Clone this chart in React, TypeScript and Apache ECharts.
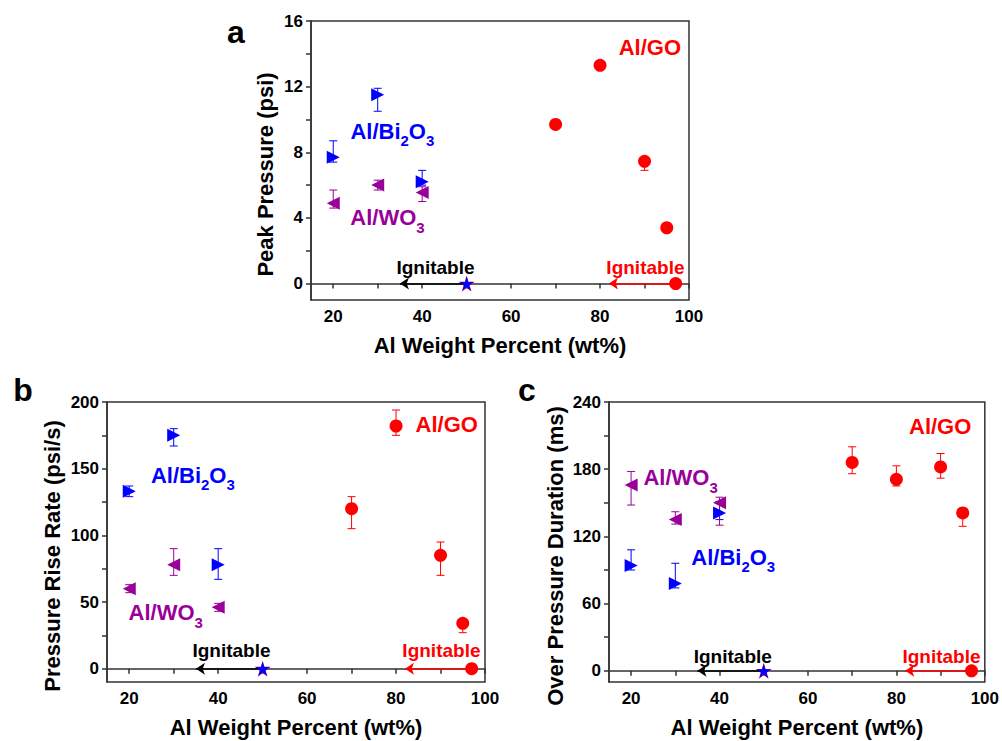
import React, { useEffect, useRef } from "react";
import * as echarts from "echarts";

const FONT = '"Liberation Sans", Arial, Helvetica, sans-serif';
const RED = "#ff0000";
const BLUE = "#0000ff";
const PURPLE = "#990099";
const AXIS = "#333333";

// shared x data (Al weight percent)
const xTicks = [20, 30, 40, 50, 60, 70, 80, 90, 100];
const xLabels = [20, 40, 60, 80, 100];
const goX = [70, 80, 90, 95];
const oxX = [20, 30, 40];
const igniteOxX = [50];
const igniteGoX = [97];
const igniteY = [0];

// panel a: peak pressure (psi)
const peakTicks = [0, 2, 4, 6, 8, 10, 12, 14, 16];
const peakLabels = [0, 4, 8, 12, 16];
const peakGO = [9.7, 13.3, 7.45, 3.4];
const peakGOLow = [9.55, 13.15, 6.9, 3.25];
const peakGOHigh = [9.85, 13.45, 7.6, 3.55];
const peakBi = [7.7, 11.5, 6.2];
const peakBiLow = [7.4, 10.5, 6.0];
const peakBiHigh = [8.7, 11.9, 6.9];
const peakWO = [4.9, 6.0, 5.55];
const peakWOLow = [4.6, 5.7, 5.0];
const peakWOHigh = [5.7, 6.3, 5.9];

// panel b: pressure rise rate (psi/s)
const rateTicks = [0, 25, 50, 75, 100, 125, 150, 175, 200];
const rateLabels = [0, 50, 100, 150, 200];
const rateGO = [120, 182, 85, 34];
const rateGOLow = [105, 175, 70, 27];
const rateGOHigh = [129, 194, 95, 37];
const rateBi = [133, 175, 78];
const rateBiLow = [129, 167, 67];
const rateBiHigh = [137, 180, 90];
const rateWO = [60, 78, 46];
const rateWOLow = [57, 70, 43];
const rateWOHigh = [63, 90, 49];

// panel c: over pressure duration (ms)
const durTicks = [0, 30, 60, 90, 120, 150, 180, 210, 240];
const durLabels = [0, 60, 120, 180, 240];
const durGO = [186, 171, 182, 141];
const durGOLow = [176, 165, 172, 129];
const durGOHigh = [200, 183, 194, 145];
const durBi = [94, 78, 141];
const durBiLow = [90, 74, 135];
const durBiHigh = [108, 96, 151];
const durWO = [166, 135, 150];
const durWOLow = [148, 131, 130];
const durWOHigh = [178, 142, 155];

const STAR =
  "path://M50,0 L61,35 L98,35 L68,57 L79,91 L50,70 L21,91 L32,57 L2,35 L39,35 Z";

const zip = (xs: number[], ys: number[]) => xs.map((x, i) => [x, ys[i]]);
const zip3 = (xs: number[], lo: number[], hi: number[]) =>
  xs.map((x, i) => [x, lo[i], hi[i]]);

const errRender = (color: string) => (params: any, api: any) => {
  const x = api.value(0);
  const a = api.coord([x, api.value(1)]);
  const b = api.coord([x, api.value(2)]);
  const w = 4;
  const style = { stroke: color, lineWidth: 1 };
  return {
    type: "group",
    children: [
      { type: "line", shape: { x1: a[0], y1: a[1], x2: b[0], y2: b[1] }, style },
      { type: "line", shape: { x1: a[0] - w, y1: a[1], x2: a[0] + w, y2: a[1] }, style },
      { type: "line", shape: { x1: b[0] - w, y1: b[1], x2: b[0] + w, y2: b[1] }, style },
    ],
  };
};

const richFor = (color: string) => ({
  m: { fontSize: 22, fontWeight: "bold", fontFamily: FONT, color, padding: [0, 0, 6, 0] },
  s: { fontSize: 15, fontWeight: "bold", fontFamily: FONT, color, verticalAlign: "bottom" },
});

const textPoint = (coord: number[], formatter: string, color: string, size = 22) => ({
  coord,
  symbol: "circle",
  symbolSize: 0,
  label: {
    show: true,
    position: "inside",
    formatter,
    color,
    fontSize: size,
    fontWeight: "bold",
    fontFamily: FONT,
    rich: richFor(color),
  },
});

const arrowLine = (color: string, from: number[], to: number[]) => ({
  silent: true,
  symbol: ["none", "arrow"],
  symbolSize: 9,
  lineStyle: { color, width: 1.5, type: "solid", opacity: 1 },
  itemStyle: { color },
  label: { show: false },
  emphasis: { disabled: true },
  data: [[{ coord: from }, { coord: to }]],
});

type Panel = {
  grid: any;
  yMin: number;
  yMax: number;
  yTicks: number[];
  yLabels: number[];
  yName: string;
  yNameGap: number;
  go: number[];
  goLow: number[];
  goHigh: number[];
  bi: number[];
  biLow: number[];
  biHigh: number[];
  wo: number[];
  woLow: number[];
  woHigh: number[];
  goLabel: number[];
  biLabel: number[];
  woLabel: number[];
  ignY: number;
};

function buildPanel(p: Panel, idx: number) {
  const tickLabel = {
    fontSize: 17,
    fontWeight: "bold",
    fontFamily: FONT,
    color: "#000",
    margin: 8,
  };
  const xAxis = {
    type: "value",
    gridIndex: idx,
    min: 15,
    max: 100,
    name: "Al Weight Percent (wt%)",
    nameLocation: "middle",
    nameGap: 34,
    nameTextStyle: { fontSize: 22, fontWeight: "bold", fontFamily: FONT, color: "#000" },
    axisLine: { show: true, lineStyle: { color: AXIS, width: 1.5 } },
    axisTick: { show: true, length: 5, customValues: xTicks, lineStyle: { color: AXIS, width: 1.5 } },
    axisLabel: { ...tickLabel, customValues: xLabels },
    splitLine: { show: false },
  };
  const yAxis = {
    type: "value",
    gridIndex: idx,
    min: p.yMin,
    max: p.yMax,
    name: p.yName,
    nameLocation: "middle",
    nameGap: p.yNameGap,
    nameTextStyle: {
      fontSize: 22,
      fontWeight: "bold",
      fontFamily: FONT,
      color: "#000",
      padding: [0, 28, 0, 0],
    },
    axisLine: { show: true, lineStyle: { color: AXIS, width: 1.5 } },
    axisTick: { show: true, length: 5, customValues: p.yTicks, lineStyle: { color: AXIS, width: 1.5 } },
    axisLabel: { ...tickLabel, customValues: p.yLabels },
    splitLine: { show: false },
  };
  const base = { xAxisIndex: idx, yAxisIndex: idx };
  const err = (name: string, color: string, lo: number[], hi: number[], xs: number[]) => ({
    ...base,
    type: "custom",
    name,
    renderItem: errRender(color),
    data: zip3(xs, lo, hi),
    z: 1,
    silent: true,
    encode: { x: 0, y: [1, 2] },
  });
  const series: any[] = [
    err("Al/GO err", RED, p.goLow, p.goHigh, goX),
    err("Al/Bi2O3 err", BLUE, p.biLow, p.biHigh, oxX),
    err("Al/WO3 err", PURPLE, p.woLow, p.woHigh, oxX),
    {
      ...base,
      type: "scatter",
      name: "Al/GO",
      data: zip(goX, p.go),
      symbol: "circle",
      symbolSize: 13,
      itemStyle: { color: RED, opacity: 1 },
      z: 3,
      markPoint: { silent: true, data: [textPoint(p.goLabel, "Al/GO", RED)] },
    },
    {
      ...base,
      type: "scatter",
      name: "Al/WO3",
      data: zip(oxX, p.wo),
      symbol: "triangle",
      symbolRotate: 90,
      symbolSize: 13,
      itemStyle: { color: PURPLE, opacity: 1 },
      z: 3,
      markPoint: { silent: true, data: [textPoint(p.woLabel, "{m|Al/WO}{s|3}", PURPLE)] },
    },
    {
      ...base,
      type: "scatter",
      name: "Al/Bi2O3",
      data: zip(oxX, p.bi),
      symbol: "triangle",
      symbolRotate: -90,
      symbolSize: 13,
      itemStyle: { color: BLUE, opacity: 1 },
      z: 4,
      markPoint: {
        silent: true,
        data: [textPoint(p.biLabel, "{m|Al/Bi}{s|2}{m|O}{s|3}", BLUE)],
      },
    },
    {
      ...base,
      type: "scatter",
      name: "Al/WO3 ignitable",
      data: zip(igniteOxX, igniteY),
      symbol: STAR,
      symbolSize: 16,
      itemStyle: { color: "#cc0066", opacity: 1 },
      z: 4,
      markLine: arrowLine("#000", [50, 0], [35, 0]),
      markPoint: { silent: true, data: [textPoint([43, p.ignY], "Ignitable", "#000", 19)] },
    },
    {
      ...base,
      type: "scatter",
      name: "Al/Bi2O3 ignitable",
      data: zip(igniteOxX, igniteY),
      symbol: STAR,
      symbolSize: 14,
      itemStyle: { color: BLUE, opacity: 1 },
      z: 5,
    },
    {
      ...base,
      type: "scatter",
      name: "Al/GO ignitable",
      data: zip(igniteGoX, igniteY),
      symbol: "circle",
      symbolSize: 13,
      itemStyle: { color: RED, opacity: 1 },
      z: 5,
      markLine: arrowLine(RED, [97, 0], [82, 0]),
      markPoint: { silent: true, data: [textPoint([90.2, p.ignY], "Ignitable", RED, 19)] },
    },
  ];
  return {
    grid: { ...p.grid, show: true, borderColor: AXIS, borderWidth: 1.5, containLabel: false },
    xAxis,
    yAxis,
    series,
  };
}

const panels: Panel[] = [
  {
    grid: { left: 311, top: 21, width: 378, height: 279 },
    yMin: -1,
    yMax: 16,
    yTicks: peakTicks,
    yLabels: peakLabels,
    yName: "Peak Pressure (psi)",
    yNameGap: 35,
    go: peakGO, goLow: peakGOLow, goHigh: peakGOHigh,
    bi: peakBi, biLow: peakBiLow, biHigh: peakBiHigh,
    wo: peakWO, woLow: peakWOLow, woHigh: peakWOHigh,
    goLabel: [91.2, 14.4],
    biLabel: [33.3, 9.1],
    woLabel: [32.2, 3.83],
    ignY: 1.0,
  },
  {
    grid: { left: 107, top: 402, width: 378, height: 280 },
    yMin: -10,
    yMax: 200,
    yTicks: rateTicks,
    yLabels: rateLabels,
    yName: "Pressure Rise Rate (psi/s)",
    yNameGap: 44,
    go: rateGO, goLow: rateGOLow, goHigh: rateGOHigh,
    bi: rateBi, biLow: rateBiLow, biHigh: rateBiHigh,
    wo: rateWO, woLow: rateWOLow, woHigh: rateWOHigh,
    goLabel: [91.4, 183.5],
    biLabel: [34.3, 142.8],
    woLabel: [28.2, 39.7],
    ignY: 13.3,
  },
  {
    grid: { left: 609, top: 402, width: 379, height: 280 },
    yMin: -10,
    yMax: 240,
    yTicks: durTicks,
    yLabels: durLabels,
    yName: "Over Pressure Duration (ms)",
    yNameGap: 43,
    go: durGO, goLow: durGOLow, goHigh: durGOHigh,
    bi: durBi, biLow: durBiLow, biHigh: durBiHigh,
    wo: durWO, woLow: durWOLow, woHigh: durWOHigh,
    goLabel: [89.9, 218.2],
    biLabel: [43.1, 98.6],
    woLabel: [31.2, 169.9],
    ignY: 13.1,
  },
];

export default function App() {
  const ref = useRef<HTMLDivElement>(null);
  useEffect(() => {
    document.body.style.margin = "0";
    if (!ref.current) return;
    const chart = echarts.init(ref.current, undefined, { renderer: "svg" });
    const built = panels.map((p, i) => buildPanel(p, i));
    const letter = (text: string, x: number, y: number) => ({
      type: "text",
      x,
      y,
      style: {
        text,
        fontSize: 32,
        fontWeight: "bold",
        fontFamily: FONT,
        fill: "#000",
        textAlign: "center",
        textVerticalAlign: "middle",
      },
    });
    chart.setOption({
      animation: false,
      backgroundColor: "#ffffff",
      textStyle: { fontFamily: FONT },
      grid: built.map((b) => b.grid),
      xAxis: built.map((b) => b.xAxis),
      yAxis: built.map((b) => b.yAxis),
      series: built.flatMap((b) => b.series),
      graphic: [letter("a", 236, 32), letter("b", 23, 390), letter("c", 527, 390)],
    });
    return () => chart.dispose();
  }, []);
  return <div ref={ref} style={{ width: 1002, height: 741 }} />;
}
